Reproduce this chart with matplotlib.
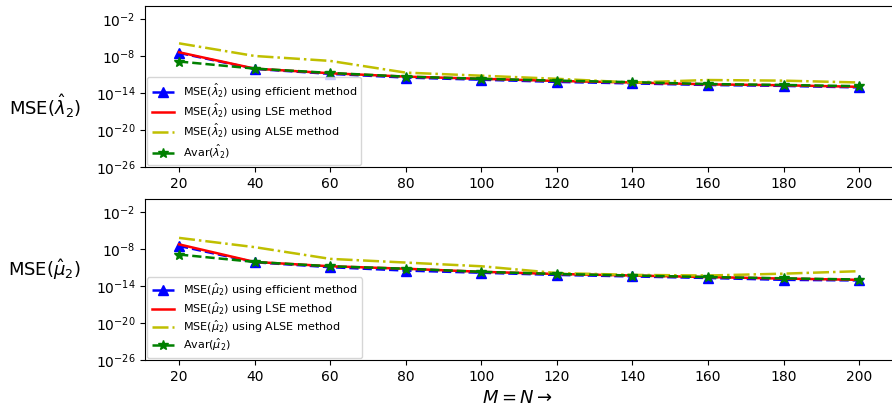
import numpy as np
import matplotlib.pyplot as plt

# sample sizes M = N
M = [20, 40, 60, 80, 100, 120, 140, 160, 180, 200]

# log10 of MSE values
lam_eff = [-7.5, -10.1, -10.9, -11.5, -11.85, -12.2, -12.45, -12.7, -12.85, -13.1]
lam_lse = [-7.4, -10.05, -10.8, -11.35, -11.7, -12.05, -12.3, -12.6, -12.75, -13.0]
lam_alse = [-5.95, -8.0, -8.8, -10.7, -11.2, -11.7, -12.3, -11.9, -12.0, -12.3]
lam_avar = [-8.9, -10.05, -10.75, -11.35, -11.7, -12.0, -12.25, -12.55, -12.7, -12.9]

mu_eff = [-7.5, -10.15, -10.95, -11.5, -11.85, -12.2, -12.45, -12.7, -13.0, -13.1]
mu_lse = [-7.25, -10.1, -10.8, -11.2, -11.7, -12.05, -12.3, -12.55, -12.8, -13.0]
mu_alse = [-6.2, -7.7, -9.6, -10.2, -10.8, -11.9, -12.2, -12.3, -12.0, -11.6]
mu_avar = [-8.9, -10.1, -10.8, -11.2, -11.7, -12.05, -12.3, -12.55, -12.75, -12.95]

panels = [
    (r'\hat{\lambda}_2', lam_eff, lam_lse, lam_alse, lam_avar),
    (r'\hat{\mu}_2', mu_eff, mu_lse, mu_alse, mu_avar),
]

fig = plt.figure(figsize=(8.92, 4.12), dpi=100)
positions = [[0.1626, 0.5947, 0.8386, 0.3907],
             [0.1626, 0.1262, 0.8386, 0.3907]]
label_y = [0.38, 0.56]

for i, (sym, eff, lse, alse, avar) in enumerate(panels):
    ax = fig.add_axes(positions[i])
    ax.semilogy(M, 10.0 ** np.array(eff), 'b--^', markersize=7, lw=1.8,
                label=r'MSE($%s$) using efficient method' % sym)
    ax.semilogy(M, 10.0 ** np.array(lse), 'r-', lw=1.8,
                label=r'MSE($%s$) using LSE method' % sym)
    ax.semilogy(M, 10.0 ** np.array(alse), 'y-.', lw=1.8,
                label=r'MSE($%s$) using ALSE method' % sym)
    ax.semilogy(M, 10.0 ** np.array(avar), 'g--*', markersize=7, lw=1.8,
                label=r'Avar($%s$)' % sym)
    ax.set_ylim(1e-26, 10 ** 0.1)
    ax.set_xlim(11, 209)
    ax.set_yticks([1e-26, 1e-20, 1e-14, 1e-8, 1e-2])
    ax.yaxis.set_minor_locator(plt.NullLocator())
    ax.set_xticks(M)
    ax.set_ylabel(r'MSE($%s$)' % sym, rotation=0, fontsize=13, va='center', ha='center')
    ax.yaxis.set_label_coords(-0.134, label_y[i])
    ax.legend(loc='lower left', fontsize=8, borderaxespad=0.2,
              labelspacing=0.18, handlelength=2.0)

fig.text(0.58, 0.035, r'$M = N \rightarrow$', fontsize=13, ha='center', va='center')

fig.savefig('out.png', dpi=100)
